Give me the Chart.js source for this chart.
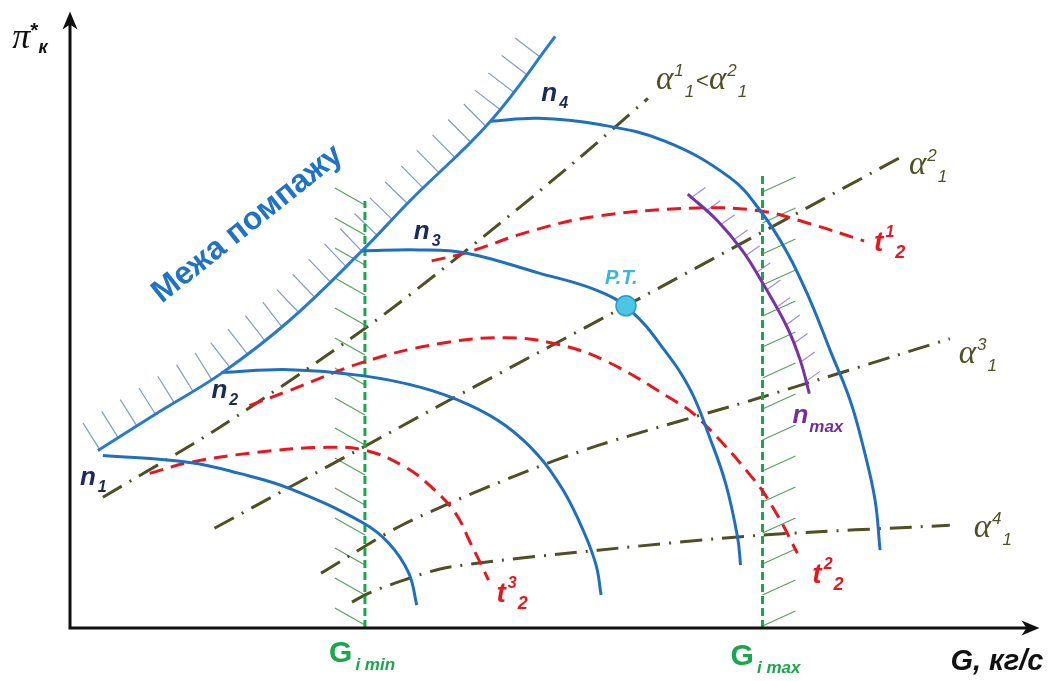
<!DOCTYPE html>
<html>
<head>
<meta charset="utf-8">
<script src="https://cdn.jsdelivr.net/npm/chart.js@4/dist/chart.umd.min.js"></script>
<style>
  html, body { margin: 0; padding: 0; background: #ffffff; }
  canvas { display: block; }
</style>
</head>
<body>
<canvas id="map" width="1051" height="681"></canvas>
<script>
// Compressor map: pressure ratio π*к versus air flow G (relative units, no ticks).
// Each list holds [G, π*к] pairs.

const surgeLine = [[2.8,17.8],[9,21.7],[15.3,25.6],[22,30.8],[29.3,37.8],[34.3,43],[42.2,50.8],[48.7,59.3]];

const speedN1 = [[3.3,17.3],[12,16.6],[17,15.5],[22,14],[29.3,10.6],[32,8.5],[34,5.5],[34.8,2.3]];
const speedN2 = [[15.2,25.6],[22,25.9],[29.3,25.3],[35.3,24.1],[40,22.4],[43.7,20.3],[47,17.3],[49.5,13.8],[51.5,9.8],[52.8,6.3],[53.3,3.3]];
const speedN3 = [[29.3,37.8],[35,37.9],[39.7,37.6],[47,35.6],[53,33.8],[56.3,31.8],[59.7,27.8],[62.3,23.8],[64.2,19.1],[65.8,14.5],[67,9.1],[67.3,6.3]];
const speedN4 = [[42.2,50.8],[47,51.1],[53,50.5],[59.7,48.8],[66.3,45.1],[69.3,41.8],[72,37.6],[74.3,32.8],[76.3,27.8],[78.3,22.8],[79.7,17.8],[80.8,12.8],[81.3,7.8]];
const speedMax = [[62,43.5],[65,40.8],[67.5,37.8],[69.5,34.6],[72,30.1],[73.3,26.8],[74.2,23.5]];

const tempT1 = [[36.3,36.8],[39.7,37.6],[46.3,39.8],[53,41.3],[63,42.1],[69.3,41.8],[74,40.6],[79.7,38.8]];
const tempT2 = [[18,22.3],[22,23.8],[29.3,26.6],[37,28.5],[43.7,29.1],[48.7,28.5],[53.7,26.8],[60.3,23],[63,21.1],[68.7,14.8],[71,11.3],[73,7.5]];
const tempT3 = [[8,15.5],[12,16.6],[18.7,17.6],[25.3,18.1],[29.7,17.8],[33.7,16.1],[36.3,14.1],[38.7,11.5],[40.2,8.5],[41.2,6.5],[42,4.8]];

const alpha1 = [[3.3,13.1],[15,20.1],[29.7,30.1],[39.7,37.8],[50.5,46.6],[58,53.1]];
const alpha2 = [[14.5,10],[38,22.8],[55.8,32.3],[83.2,47.1]];
const alpha3 = [[25.2,5.5],[33.3,10.3],[44.3,15.1],[53,18.3],[69.3,23.1],[88.3,29]];
const alpha4 = [[28.3,2.6],[30,3.5],[33.5,4.8],[38,6.1],[53,7.8],[69.3,9.3],[88.3,10.3]];

const flowMin = [[29.6,0],[29.6,42.8]];
const flowMax = [[69.5,0],[69.5,45.6]];

const designPoint = [[55.8,32.3]];

const G_MAX = 97.3;
const PI_MAX = 61.8;

const SANS = '"Liberation Sans", Arial, sans-serif';
const SERIF = '"Liberation Serif", "Times New Roman", serif';

const BLUE = '#1f6fbd';
const RED = '#e5171f';
const GREEN = '#1aa64c';
const OLIVE = '#4f4f24';
const PURPLE = '#7533a6';

const xy = pts => pts.map(([x, y]) => ({ x, y }));

function curve(data, color, width, dash, order, tension) {
  return {
    data: xy(data),
    showLine: true,
    borderColor: color,
    borderWidth: width,
    borderDash: dash,
    borderCapStyle: 'butt',
    pointRadius: 0,
    pointHoverRadius: 0,
    tension: tension === undefined ? 0.4 : tension,
    fill: false,
    order: order
  };
}

const dashDot = [22, 9, 2, 9];
const redDash = [14, 8];
const greenDash = [8, 4];

const datasets = [
  {
    data: xy(designPoint),
    pointRadius: 10,
    pointBackgroundColor: '#4cc6e4',
    pointBorderColor: '#2c9fc6',
    pointBorderWidth: 1.5,
    showLine: false,
    order: 0
  },
  curve(surgeLine, '#2a7acb', 3, [], 1),
  curve(speedN1, BLUE, 3, [], 1),
  curve(speedN2, BLUE, 3, [], 1),
  curve(speedN3, BLUE, 3, [], 1),
  curve(speedN4, BLUE, 3, [], 1),
  curve(speedMax, PURPLE, 3, [], 2),
  curve(tempT1, RED, 3, redDash, 3),
  curve(tempT2, RED, 3, redDash, 3),
  curve(tempT3, RED, 3, redDash, 3),
  curve(flowMin, GREEN, 3, greenDash, 4, 0),
  curve(flowMax, GREEN, 3, greenDash, 4, 0),
  curve(alpha1, OLIVE, 3, dashDot, 5, 0.3),
  curve(alpha2, OLIVE, 3, dashDot, 5, 0),
  curve(alpha3, OLIVE, 3, dashDot, 5, 0.3),
  curve(alpha4, OLIVE, 3, dashDot, 5, 0.3)
];

// Short boundary strokes on the forbidden side of each limit line.
const hatchSets = [
  { data: surgeLine, color: '#7f9dbd', width: 1.2, spacing: 22, start: 2, end: 18, normal: 31 },
  { data: flowMin, color: '#55a35b', width: 1.2, spacing: 30, start: 3, end: 0, vec: [-30, -17] },
  { data: flowMax, color: '#55a35b', width: 1.2, spacing: 31, start: 2, end: 0, vec: [33, -15] },
  { data: speedMax, color: '#a58bd2', width: 1.2, spacing: 20, start: 5, end: 4, vec: [14, -10] }
];

const hatchPlugin = {
  id: 'hatches',
  beforeDatasetsDraw(chart) {
    const ctx = chart.ctx;
    const X = v => chart.scales.x.getPixelForValue(v);
    const Y = v => chart.scales.y.getPixelForValue(v);
    for (const h of hatchSets) {
      const pts = h.data.map(([g, p]) => [X(g), Y(p)]);
      const segs = [];
      let total = 0;
      for (let i = 1; i < pts.length; i++) {
        const dx = pts[i][0] - pts[i - 1][0], dy = pts[i][1] - pts[i - 1][1];
        const L = Math.hypot(dx, dy);
        segs.push({ a: pts[i - 1], dx, dy, L, s0: total });
        total += L;
      }
      ctx.save();
      ctx.strokeStyle = h.color;
      ctx.lineWidth = h.width;
      ctx.beginPath();
      for (let s = h.start; s <= total - h.end; s += h.spacing) {
        const sg = segs.find(q => s >= q.s0 && s <= q.s0 + q.L) || segs[segs.length - 1];
        const f = (s - sg.s0) / sg.L;
        const x = sg.a[0] + sg.dx * f, y = sg.a[1] + sg.dy * f;
        let vx, vy;
        if (h.normal) {
          const tx = sg.dx / sg.L, ty = sg.dy / sg.L;
          vx = ty * h.normal; vy = -tx * h.normal;
        } else {
          vx = h.vec[0]; vy = h.vec[1];
        }
        ctx.moveTo(x, y);
        ctx.lineTo(x + vx, y + vy);
      }
      ctx.stroke();
      ctx.restore();
    }
  }
};

const axesPlugin = {
  id: 'arrowAxes',
  afterDatasetsDraw(chart) {
    const ctx = chart.ctx;
    const x0 = chart.scales.x.getPixelForValue(0);
    const y0 = chart.scales.y.getPixelForValue(0);
    const xEnd = chart.scales.x.getPixelForValue(G_MAX);
    const yEnd = chart.scales.y.getPixelForValue(PI_MAX);
    ctx.save();
    ctx.strokeStyle = '#111';
    ctx.fillStyle = '#111';
    ctx.lineWidth = 3;
    ctx.beginPath();
    ctx.moveTo(x0, y0 + 1.5);
    ctx.lineTo(x0, yEnd + 6);
    ctx.moveTo(x0 - 1.5, y0);
    ctx.lineTo(xEnd - 6, y0);
    ctx.stroke();
    ctx.beginPath();
    ctx.moveTo(x0, yEnd);
    ctx.lineTo(x0 - 7.5, yEnd + 18);
    ctx.lineTo(x0, yEnd + 13);
    ctx.lineTo(x0 + 7.5, yEnd + 18);
    ctx.closePath();
    ctx.fill();
    ctx.beginPath();
    ctx.moveTo(xEnd, y0);
    ctx.lineTo(xEnd - 18, y0 - 7.5);
    ctx.lineTo(xEnd - 13, y0);
    ctx.lineTo(xEnd - 18, y0 + 7.5);
    ctx.closePath();
    ctx.fill();
    ctx.restore();
  }
};

// Text annotations; anchors are in chart units, runs are drawn left to right.
const alphaRuns = (sup, sub) => [
  { t: 'α', f: `italic 33px ${SERIF}` },
  { t: sup, f: `italic 17px ${SANS}`, dy: -13, dx: 1 },
  { t: sub, f: `italic 17px ${SANS}`, dy: 8, dx: 1 }
];

const notes = [
  { at: [-5.8, 58.1], color: '#111', runs: [
    { t: 'π', f: `italic 36px ${SERIF}` },
    { t: '*', f: `bold 21px ${SANS}`, dy: -11, dx: 0 },
    { t: 'к', f: `bold italic 18px ${SANS}`, dy: 5 } ] },
  { at: [9.2, 32.5], color: '#1f72c4', angle: -38.5, runs: [
    { t: 'Межа помпажу', f: `bold 32px ${SANS}` } ] },
  { at: [1, 14.3], color: '#1b2a58', runs: [
    { t: 'n', f: `bold italic 26px ${SANS}` }, { t: '1', f: `bold italic 16px ${SANS}`, dy: 7, dx: 2 } ] },
  { at: [14.2, 23.1], color: '#1b2a58', runs: [
    { t: 'n', f: `bold italic 26px ${SANS}` }, { t: '2', f: `bold italic 16px ${SANS}`, dy: 7, dx: 2 } ] },
  { at: [34.5, 39], color: '#1b2a58', runs: [
    { t: 'n', f: `bold italic 26px ${SANS}` }, { t: '3', f: `bold italic 16px ${SANS}`, dy: 7, dx: 2 } ] },
  { at: [47.3, 52.8], color: '#1b2a58', runs: [
    { t: 'n', f: `bold italic 26px ${SANS}` }, { t: '4', f: `bold italic 16px ${SANS}`, dy: 7, dx: 2 } ] },
  { at: [72.5, 20.6], color: '#6f2f9f', runs: [
    { t: 'n', f: `bold italic 26px ${SANS}` }, { t: 'max', f: `bold italic 17px ${SANS}`, dy: 9, dx: 1 } ] },
  { at: [53.7, 34.5], color: '#3bb6d8', runs: [
    { t: 'P.T.', f: `bold italic 20px ${SANS}` } ] },
  { at: [58.8, 54], color: OLIVE, runs: [
    ...alphaRuns('1', '1'),
    { t: '<', f: `22px ${SANS}`, dy: -1, dx: 2 },
    ...alphaRuns('2', '1') ] },
  { at: [84.2, 45.5], color: OLIVE, runs: alphaRuns('2', '1') },
  { at: [89.2, 26.6], color: OLIVE, runs: alphaRuns('3', '1') },
  { at: [90.7, 9.1], color: OLIVE, runs: alphaRuns('4', '1') },
  { at: [80.7, 37.8], color: RED, runs: [
    { t: 't', f: `bold italic 28px ${SANS}` }, { t: '1', f: `bold italic 16px ${SANS}`, dy: -14, dx: 2 },
    { t: '2', f: `bold italic 18px ${SANS}`, dy: 7, dx: 1 } ] },
  { at: [74.5, 4.5], color: RED, runs: [
    { t: 't', f: `bold italic 28px ${SANS}` }, { t: '2', f: `bold italic 16px ${SANS}`, dy: -14, dx: 2 },
    { t: '2', f: `bold italic 18px ${SANS}`, dy: 7, dx: 1 } ] },
  { at: [42.8, 2.6], color: RED, runs: [
    { t: 't', f: `bold italic 28px ${SANS}` }, { t: '3', f: `bold italic 16px ${SANS}`, dy: -14, dx: 2 },
    { t: '2', f: `bold italic 18px ${SANS}`, dy: 7, dx: 1 } ] },
  { at: [26, -3.4], color: GREEN, runs: [
    { t: 'G', f: `bold 30px ${SANS}` }, { t: 'i min', f: `bold italic 17px ${SANS}`, dy: 8, dx: 3 } ] },
  { at: [66.3, -3.7], color: GREEN, runs: [
    { t: 'G', f: `bold 30px ${SANS}` }, { t: 'i max', f: `bold italic 17px ${SANS}`, dy: 8, dx: 3 } ] },
  { at: [97.7, -4.2], color: '#111', align: 'right', runs: [
    { t: 'G, кг/с', f: `bold italic 29px ${SANS}` } ] }
];

const notesPlugin = {
  id: 'notes',
  afterDraw(chart) {
    const ctx = chart.ctx;
    for (const n of notes) {
      const x = chart.scales.x.getPixelForValue(n.at[0]);
      const y = chart.scales.y.getPixelForValue(n.at[1]);
      ctx.save();
      ctx.translate(x, y);
      if (n.angle) ctx.rotate(n.angle * Math.PI / 180);
      ctx.fillStyle = n.color;
      ctx.textBaseline = 'alphabetic';
      ctx.textAlign = 'left';
      let width = 0;
      for (const r of n.runs) { ctx.font = r.f; width += (r.dx || 0) + ctx.measureText(r.t).width; }
      let cx = n.align === 'right' ? -width : 0;
      for (const r of n.runs) {
        ctx.font = r.f;
        cx += r.dx || 0;
        ctx.fillText(r.t, cx, r.dy || 0);
        cx += ctx.measureText(r.t).width;
      }
      ctx.restore();
    }
  }
};

new Chart(document.getElementById('map'), {
  type: 'scatter',
  data: { datasets },
  options: {
    responsive: false,
    animation: false,
    events: [],
    layout: { padding: { left: 70, right: 8, top: 10, bottom: 53 } },
    scales: {
      x: { type: 'linear', min: 0, max: G_MAX, display: false },
      y: { type: 'linear', min: 0, max: PI_MAX, display: false }
    },
    plugins: {
      legend: { display: false },
      tooltip: { enabled: false }
    }
  },
  plugins: [hatchPlugin, axesPlugin, notesPlugin]
});
</script>
</body>
</html>
